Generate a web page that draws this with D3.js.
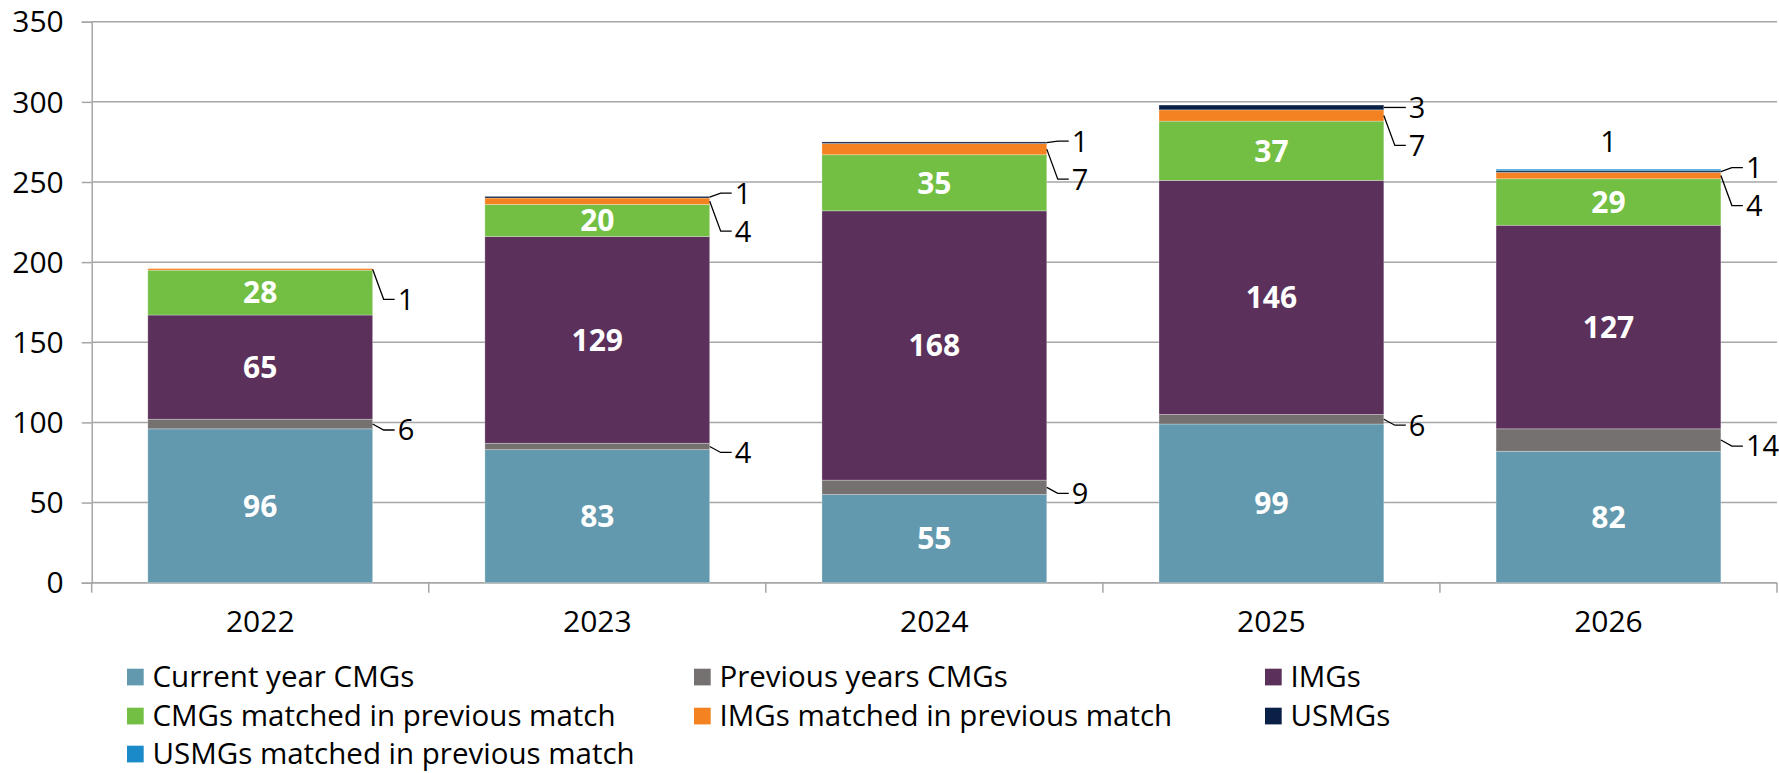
<!DOCTYPE html>
<html>
<head>
<meta charset="utf-8">
<script src="https://cdn.jsdelivr.net/npm/d3@7"></script>
<style>
  html, body { margin: 0; padding: 0; background: #fff; }
  svg { display: block; }
  text { font-family: "Open Sans", "DejaVu Sans", sans-serif; }
</style>
</head>
<body>
<svg id="chart" width="1779" height="773"></svg>
<script>
// ---- data ----
const years = ["2022", "2023", "2024", "2025", "2026"];
const seriesNames = [
  "Current year CMGs",
  "Previous years CMGs",
  "IMGs",
  "CMGs matched in previous match",
  "IMGs matched in previous match",
  "USMGs",
  "USMGs matched in previous match"
];
const currentYearCMGs   = [96, 83, 55, 99, 82];
const previousYearsCMGs = [6, 4, 9, 6, 14];
const imgs              = [65, 129, 168, 146, 127];
const cmgsMatchedPrev   = [28, 20, 35, 37, 29];
const imgsMatchedPrev   = [1, 4, 7, 7, 4];
const usmgs             = [0, 1, 1, 3, 1];
const usmgsMatchedPrev  = [0, 0, 0, 0, 1];
const yTicks = [0, 50, 100, 150, 200, 250, 300, 350];

const colors = ["#6399AE", "#767171", "#5B305B", "#72BF44", "#F58220", "#0B2046", "#1A8BC8"];

const seriesValues = [currentYearCMGs, previousYearsCMGs, imgs, cmgsMatchedPrev, imgsMatchedPrev, usmgs, usmgsMatchedPrev];
const table = years.map((yr, i) => {
  const row = { year: yr };
  seriesNames.forEach((s, k) => row[s] = seriesValues[k][i]);
  return row;
});

// ---- layout ----
const svg = d3.select("#chart");
const plot = { left: 91.7, right: 1777, top: 21.7, bottom: 582.7 };
const gridColor = "#A6A6A6";

const x = d3.scaleBand().domain(years).range([plot.left, plot.right])
  .paddingInner(0.333).paddingOuter(0.1665);
const y = d3.scaleLinear().domain([0, 350]).range([plot.bottom, plot.top]);
const color = d3.scaleOrdinal().domain(seriesNames).range(colors);

// gridlines
svg.append("g").selectAll("line").data(yTicks).join("line")
  .attr("x1", plot.left).attr("x2", plot.right)
  .attr("y1", d => y(d)).attr("y2", d => y(d))
  .attr("stroke", gridColor).attr("stroke-width", 1.5);

// y axis
const yAxis = svg.append("g").attr("transform", `translate(${plot.left},0)`)
  .call(d3.axisLeft(y).tickValues(yTicks).tickSize(10).tickPadding(18));
yAxis.select(".domain").attr("stroke", gridColor).attr("stroke-width", 1.5);
yAxis.selectAll(".tick line").attr("stroke", gridColor).attr("stroke-width", 1.5);
yAxis.selectAll(".tick text").attr("font-size", 30).attr("fill", "#000")
  .attr("font-family", '"Open Sans", sans-serif').attr("dy", "0.34em");

// x axis
const xAxis = svg.append("g").attr("transform", `translate(0,${plot.bottom})`)
  .call(d3.axisBottom(x).tickSize(0).tickPadding(28));
xAxis.select(".domain").remove();
xAxis.selectAll(".tick text").attr("font-size", 30).attr("fill", "#000")
  .attr("font-family", '"Open Sans", sans-serif');
svg.append("line").attr("x1", plot.left).attr("x2", plot.right)
  .attr("y1", plot.bottom).attr("y2", plot.bottom)
  .attr("stroke", gridColor).attr("stroke-width", 1.5);
const step = x.step();
const boundaries = years.map(yr => x(yr) - (step - x.bandwidth()) / 2).concat([plot.right]);
svg.append("g").selectAll("line").data(boundaries).join("line")
  .attr("x1", d => d).attr("x2", d => d)
  .attr("y1", plot.bottom).attr("y2", plot.bottom + 10)
  .attr("stroke", gridColor).attr("stroke-width", 1.5);

// bars
const stacked = d3.stack().keys(seriesNames)(table);
const layers = svg.append("g").selectAll("g").data(stacked).join("g")
  .attr("fill", d => color(d.key));
layers.selectAll("rect").data(d => d).join("rect")
  .attr("x", d => x(d.data.year))
  .attr("width", x.bandwidth())
  .attr("y", d => y(d[1]))
  .attr("height", d => y(d[0]) - y(d[1]))
  .attr("stroke", "rgba(255,255,255,0.35)")
  .attr("stroke-width", 0.8);

// inside labels
const insideKeys = ["Current year CMGs", "IMGs", "CMGs matched in previous match"];
const lbl = svg.append("g");
stacked.filter(s => insideKeys.includes(s.key)).forEach(s => {
  s.forEach(d => {
    const v = d[1] - d[0];
    if (!v) return;
    lbl.append("text")
      .attr("x", x(d.data.year) + x.bandwidth() / 2)
      .attr("y", (y(d[0]) + y(d[1])) / 2)
      .attr("dy", "0.36em")
      .attr("text-anchor", "middle")
      .attr("font-size", 30).attr("font-weight", "bold").attr("fill", "#fff")
      .text(v);
  });
});

// outside labels with leader lines
function leader(xEdge, yMid, yLabel, value) {
  lbl.append("polyline")
    .attr("points", [[xEdge, yMid], [xEdge + 11, yLabel], [xEdge + 22, yLabel]].map(p => p.join(",")).join(" "))
    .attr("fill", "none").attr("stroke", "#000").attr("stroke-width", 1.3);
  lbl.append("text")
    .attr("x", xEdge + 25).attr("y", yLabel).attr("dy", "0.36em")
    .attr("font-size", 29).attr("fill", "#000").text(value);
}
const byKey = k => stacked.find(s => s.key === k);
years.forEach((yr, i) => {
  const xEdge = x(yr) + x.bandwidth();
  const mid = d => (y(d[0]) + y(d[1])) / 2;
  const prev = byKey("Previous years CMGs")[i];
  if (prev[1] - prev[0]) leader(xEdge, mid(prev), mid(prev) + 6, prev[1] - prev[0]);

  const im = byKey("IMGs matched in previous match")[i];
  const us = byKey("USMGs")[i];
  let imLabel = mid(im) + 30;
  if (im[1] - im[0]) leader(xEdge, mid(im), imLabel, im[1] - im[0]);
  if (us[1] - us[0]) {
    const usLabel = Math.min(mid(us), imLabel - 38);
    leader(xEdge, mid(us), usLabel, us[1] - us[0]);
  }
  const um = byKey("USMGs matched in previous match")[i];
  if (um[1] - um[0]) {
    lbl.append("text")
      .attr("x", x(yr) + x.bandwidth() / 2).attr("y", y(um[1]) - 28).attr("dy", "0.36em")
      .attr("text-anchor", "middle").attr("font-size", 29).attr("fill", "#000")
      .text(um[1] - um[0]);
  }
});

// legend
const legendCols = [127, 694, 1265];
const legendRows = [677, 716, 754];
const leg = svg.append("g");
seriesNames.forEach((s, k) => {
  const cx = legendCols[k % 3], cy = legendRows[Math.floor(k / 3)];
  leg.append("rect").attr("x", cx).attr("y", cy - 8.3).attr("width", 16.7).attr("height", 16.7)
    .attr("fill", color(s));
  leg.append("text").attr("x", cx + 25.5).attr("y", cy).attr("dy", "0.35em")
    .attr("font-size", 29.5).attr("fill", "#000").text(s);
});
</script>
</body>
</html>
